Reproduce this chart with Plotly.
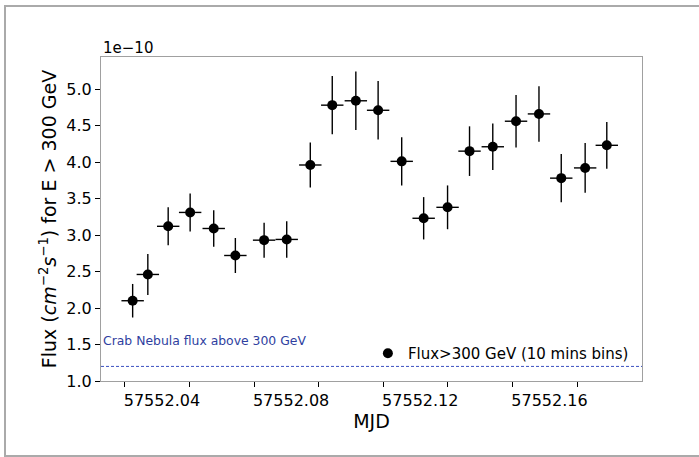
import plotly.graph_objects as go

# Data (flux in units of 1e-10 cm^-2 s^-1)
mjd = [57552.0424, 57552.0471, 57552.0534, 57552.0602, 57552.0675, 57552.0742,
       57552.0831, 57552.0901, 57552.0974, 57552.1042, 57552.1115, 57552.1184,
       57552.1257, 57552.1325, 57552.1399, 57552.1467, 57552.1539, 57552.1611,
       57552.1682, 57552.1751, 57552.1825, 57552.1892]
flux = [2.10, 2.46, 3.12, 3.31, 3.09, 2.72, 2.93, 2.94, 3.96, 4.78, 4.84, 4.71,
        4.01, 3.23, 3.38, 4.15, 4.21, 4.56, 4.66, 3.78, 3.92, 4.23]
flux_err = [0.23, 0.28, 0.26, 0.26, 0.25, 0.24, 0.24, 0.25, 0.31, 0.40, 0.40, 0.40,
            0.33, 0.29, 0.30, 0.34, 0.32, 0.36, 0.38, 0.33, 0.34, 0.32]
bin_half = [0.00347] * len(mjd)
crab_flux = 1.2

x_tickvals = [57552.04, 57552.06, 57552.08, 57552.10, 57552.12, 57552.14, 57552.16, 57552.18]
x_ticktext = ["57552.04", " ", "57552.08", " ", "57552.12", " ", "57552.16", " "]
y_tickvals = [1.0, 1.5, 2.0, 2.5, 3.0, 3.5, 4.0, 4.5, 5.0]
y_ticktext = ["1.0", "1.5", "2.0", "2.5", "3.0", "3.5", "4.0", "4.5", "5.0"]

x_range = [57552.0326, 57552.2001]
y_range = [1.0, 5.44]

FONT = "DejaVu Sans"

fig = go.Figure()
fig.add_trace(go.Scatter(
    x=mjd, y=flux, mode="markers",
    name="Flux>300 GeV (10 mins bins)",
    marker=dict(color="black", size=10),
    error_y=dict(type="data", array=flux_err, color="black", thickness=1.4, width=0),
    error_x=dict(type="data", array=bin_half, color="black", thickness=1.4, width=0),
))

fig.add_shape(type="line", xref="paper", yref="y", x0=0, x1=1, y0=crab_flux, y1=crab_flux,
              line=dict(color="#3a50c0", width=1, dash="3px,2px"))

fig.add_annotation(xref="paper", yref="paper", x=0, y=(381 - 340) / 324.0,
                   xanchor="left", yanchor="middle", showarrow=False,
                   text="Crab Nebula flux above 300 GeV",
                   font=dict(family=FONT, size=12.4, color="#2f3f9f"))

fig.add_annotation(xref="paper", yref="paper", x=0, y=1.0, xanchor="left", yanchor="bottom",
                   showarrow=False, text="1e\u221210", yshift=-2,
                   font=dict(family=FONT, size=15, color="black"))

# outer frame
fig.add_shape(type="rect", xref="paper", yref="paper",
              x0=(5 - 101) / 541.0, x1=(700 - 101) / 541.0,
              y0=(381 - 456) / 324.0, y1=(381 - 6) / 324.0,
              line=dict(color="#aaaaaa", width=2))

fig.update_layout(
    width=699, height=457,
    margin=dict(l=101, r=57, t=57, b=76),
    plot_bgcolor="white", paper_bgcolor="white",
    font=dict(family=FONT, color="black"),
    showlegend=True,
    legend=dict(x=0.985, y=0.085, xanchor="right", yanchor="middle",
                bgcolor="rgba(0,0,0,0)", font=dict(family=FONT, size=15)),
    xaxis=dict(range=x_range, tickvals=x_tickvals, ticktext=x_ticktext,
               ticks="outside", ticklen=5, tickcolor="black", tickwidth=1,
               ticklabelshift=37,
               showgrid=False, zeroline=False, showline=True, mirror=True,
               linecolor="#a0a0a0", linewidth=1,
               tickfont=dict(family=FONT, size=16),
               title=dict(text="MJD", font=dict(family=FONT, size=19), standoff=0)),
    yaxis=dict(range=y_range, tickvals=y_tickvals, ticktext=y_ticktext,
               ticks="outside", ticklen=5, tickcolor="black", tickwidth=1,
               showgrid=False, zeroline=False, showline=True, mirror=True,
               linecolor="#a0a0a0", linewidth=1,
               tickfont=dict(family=FONT, size=16),
               title=dict(text="Flux (<i>cm</i><sup>\u22122</sup><i>s</i><sup>\u22121</sup>) for E > 300 GeV",
                          font=dict(family=FONT, size=19), standoff=4)),
)

fig.write_html("out.html", config={"displayModeBar": False},
               post_script="document.body.style.margin='0';document.body.style.padding='0';")
